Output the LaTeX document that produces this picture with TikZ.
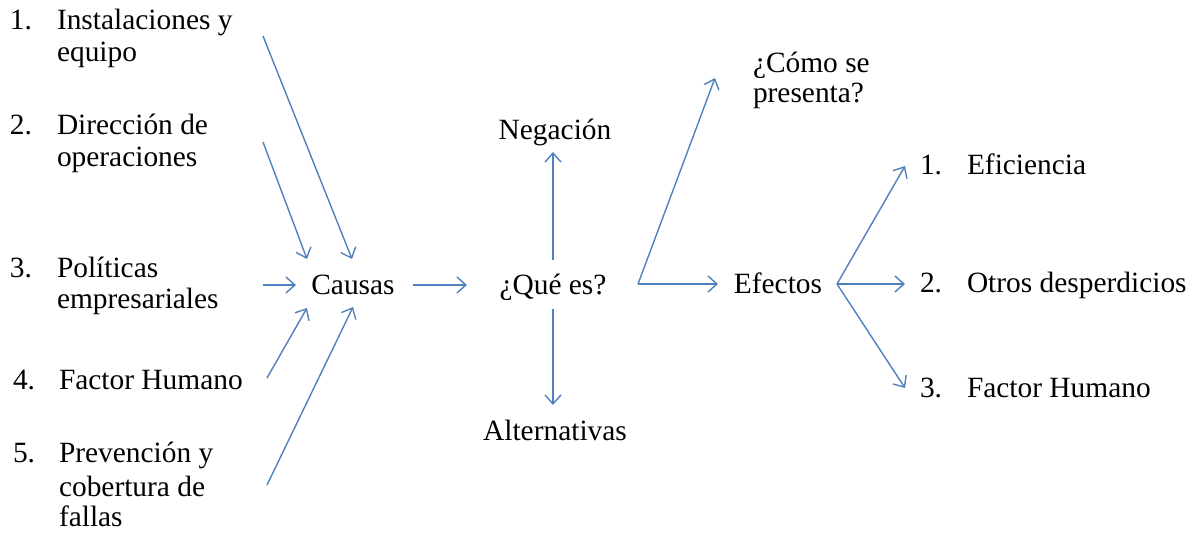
\documentclass[tikz,border=0pt]{standalone}
\usepackage{fontspec}
\setmainfont{Liberation Serif}
\usetikzlibrary{arrows.meta}
\definecolor{arrblue}{RGB}{79,129,189}
\tikzset{
  txt/.style={inner sep=0pt, outer sep=0pt, font=\fontsize{14.7}{16}\selectfont, text=black},
  lw/.style={txt, anchor=base west},
  cb/.style={txt, anchor=base},
  conn/.style={draw=arrblue, line width=0.7pt, -{Straight Barb[length=4.5pt,width=8pt,line width=0.7pt]}}
}
\begin{document}
\begin{tikzpicture}[x=0.5pt,y=-0.5pt]
\useasboundingbox (0,0) rectangle (1199,533);
% left list
\node[lw] (n1) at (10,30) {1.};
\node[lw] (i1a) at (57,30) {Instalaciones y};
\node[lw] (i1b) at (57,62) {equipo};
\node[lw] (n2) at (10,135) {2.};
\node[lw] (i2a) at (57,135) {Dirección de};
\node[lw] (i2b) at (57,167) {operaciones};
\node[lw] (n3) at (10,278) {3.};
\node[lw] (i3a) at (57,278) {Políticas};
\node[lw] (i3b) at (57,309) {empresariales};
\node[lw] (n4) at (13,390) {4.};
\node[lw] (i4a) at (59,390) {Factor Humano};
\node[lw] (n5) at (13,463) {5.};
\node[lw] (i5a) at (59,463) {Prevención y};
\node[lw] (i5b) at (59,497) {cobertura de};
\node[lw] (i5c) at (59,527) {fallas};
% centre
\node[cb] (causas) at (353,295) {Causas};
\node[cb] (que) at (553,295) {¿Qué es?};
\node[cb] (neg) at (555,140) {Negación};
\node[cb] (alt) at (555,441) {Alternativas};
\node[lw] (como1) at (753,73) {¿Cómo se};
\node[lw] (como2) at (753,103) {presenta?};
\node[cb] (efectos) at (778,294) {Efectos};
% right list
\node[lw] (m1) at (920,175) {1.};
\node[lw] (e1) at (967,175) {Eficiencia};
\node[lw] (m2) at (920,293) {2.};
\node[lw] (e2) at (967,293) {Otros desperdicios};
\node[lw] (m3) at (920,398) {3.};
\node[lw] (e3) at (967,398) {Factor Humano};
% connector end points
\coordinate (s1) at (263,36);   \coordinate (t1) at (352,259);
\coordinate (s2) at (263,142);  \coordinate (t2) at (307,259);
\coordinate (s3) at (263,285);  \coordinate (t3) at (296,285);
\coordinate (s4) at (267,378);  \coordinate (t4) at (307,308);
\coordinate (s5) at (267,485);  \coordinate (t5) at (353,307);
\coordinate (s6) at (413,285);  \coordinate (t6) at (467,285);
\coordinate (s7) at (553,260);  \coordinate (t7) at (553,152);
\coordinate (s8) at (553,309);  \coordinate (t8) at (553,405);
\coordinate (fork) at (638,284);
\coordinate (t9) at (715,78);   \coordinate (t10) at (718,284);
\coordinate (fork2) at (837,284);
\coordinate (u1) at (905,166);  \coordinate (u2) at (905,284); \coordinate (u3) at (905,388);
\draw[conn] (s1) -- (t1);
\draw[conn] (s2) -- (t2);
\draw[conn] (s3) -- (t3);
\draw[conn] (s4) -- (t4);
\draw[conn] (s5) -- (t5);
\draw[conn] (s6) -- (t6);
\draw[conn] (s7) -- (t7);
\draw[conn] (s8) -- (t8);
\draw[conn] (fork) -- (t9);
\draw[conn] (fork) -- (t10);
\draw[conn] (fork2) -- (u1);
\draw[conn] (fork2) -- (u2);
\draw[conn] (fork2) -- (u3);
\end{tikzpicture}
\end{document}
